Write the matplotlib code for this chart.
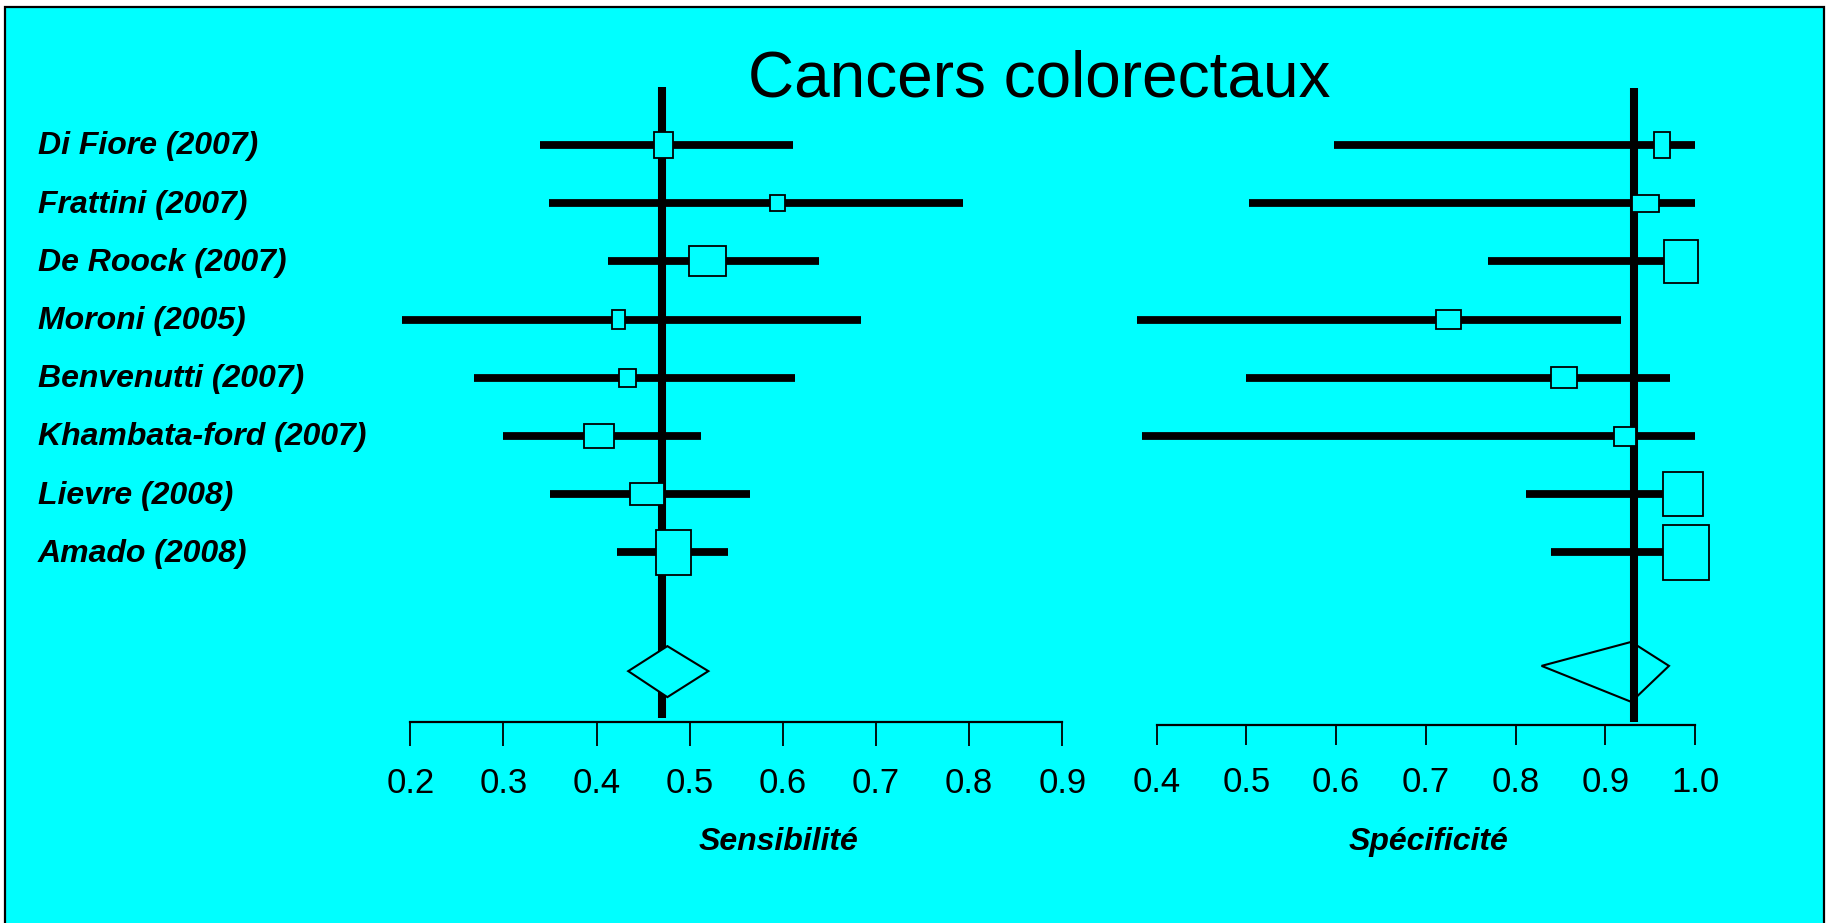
import matplotlib.pyplot as plt
from matplotlib.patches import Rectangle, Polygon
from matplotlib.transforms import blended_transform_factory

plt.rcParams['font.family'] = ['Liberation Sans', 'DejaVu Sans']

# data
studies = ["Di Fiore (2007)", "Frattini (2007)", "De Roock (2007)", "Moroni (2005)",
           "Benvenutti (2007)", "Khambata-ford (2007)", "Lievre (2008)", "Amado (2008)"]

sens = [0.472, 0.594, 0.519, 0.424, 0.433, 0.403, 0.454, 0.483]
sens_lo = [0.339, 0.349, 0.412, 0.191, 0.268, 0.300, 0.350, 0.422]
sens_hi = [0.611, 0.793, 0.639, 0.684, 0.613, 0.512, 0.565, 0.541]
sens_line = 0.47
sens_pool = [0.434, 0.476, 0.520]   # lo, estimate, hi

spec = [0.963, 0.945, 0.984, 0.725, 0.854, 0.922, 0.987, 0.990]
spec_lo = [0.598, 0.503, 0.769, 0.378, 0.500, 0.384, 0.812, 0.840]
spec_hi = [1.0, 1.0, 1.0, 0.917, 0.972, 1.0, 1.0, 1.0]
spec_line = 0.932
spec_pool = [0.829, 0.929, 0.971]

sens_ticks = [0.2, 0.3, 0.4, 0.5, 0.6, 0.7, 0.8, 0.9]
spec_ticks = [0.4, 0.5, 0.6, 0.7, 0.8, 0.9, 1.0]

# box sizes (pixels, width / height) - study weights
sens_box_w = [18.4, 15.2, 37.7, 12.9, 17.0, 29.8, 34.0, 34.9]
sens_box_h = [25.3, 15.7, 30.0, 18.7, 17.7, 24.3, 22.0, 45.7]
spec_box_w = [16.5, 27.7, 33.9, 25.4, 25.9, 22.3, 40.2, 46.4]
spec_box_h = [26.0, 17.3, 43.3, 19.3, 21.0, 19.0, 44.3, 55.0]

CYAN = '#00ffff'
W, H = 1829, 923
ROW0, DY = 145, 58.2      # pixel y of first row, row spacing
TOP, BOT = 80, 770        # axes vertical extent in pixels
POOL_ROW = 9

fig = plt.figure(figsize=(W / 100, H / 100), dpi=100, facecolor='white')
fig.patches.append(Rectangle((5 / W, -0.02), (1823.5 - 5) / W, 1.02 - 7 / H,
                             transform=fig.transFigure, facecolor=CYAN,
                             edgecolor='black', lw=1.6, zorder=-5))


def make_axes(x0, x1, pa, va, pb, vb):
    ax = fig.add_axes([x0 / W, 1 - BOT / H, (x1 - x0) / W, (BOT - TOP) / H])
    k = (vb - va) / (pb - pa)
    ax.set_xlim(va + (x0 - pa) * k, va + (x1 - pa) * k)
    ax.set_ylim((BOT - ROW0) / DY, (TOP - ROW0) / DY)
    ax.patch.set_visible(False)
    for s in ['top', 'left', 'right']:
        ax.spines[s].set_visible(False)
    ax.set_yticks([])
    return ax, 1 / k


def forest(ax, ppu, est, lo, hi, bw, bh, line, line_top, line_bot, pool,
           pool_mid, pool_up, pool_dn, diamond_on_top, ticks, axis_row, tick_len):
    rows = list(range(len(est)))
    ax.hlines(rows, lo, hi, color='black', lw=5.6, capstyle='butt', zorder=2)
    ax.vlines(line, line_top, line_bot, color='black', lw=5.8,
              capstyle='butt', zorder=3)
    for r, e, w, h in zip(rows, est, bw, bh):
        ax.add_patch(Rectangle((e - w / ppu / 2, r - h / DY / 2), w / ppu, h / DY,
                               facecolor=CYAN, edgecolor='black', lw=1.3,
                               zorder=4))
    lo_p, mid_p, hi_p = pool
    ax.add_patch(Polygon([(lo_p, pool_mid), (mid_p, pool_mid - pool_up / DY),
                          (hi_p, pool_mid), (mid_p, pool_mid + pool_dn / DY)],
                         closed=True, facecolor=CYAN, edgecolor='black', lw=1.5,
                         zorder=4 if diamond_on_top else 1))
    ax.spines['bottom'].set_position(('data', axis_row))
    ax.spines['bottom'].set_bounds(ticks[0], ticks[-1])
    ax.spines['bottom'].set_linewidth(1.6)
    ax.set_xticks(ticks)
    ax.set_xticklabels([f"{t:.1f}" for t in ticks])
    ax.tick_params(axis='x', direction='out', length=tick_len, width=1.3,
                   pad=15, labelsize=25)


ax1, ppu1 = make_axes(380, 1100, 410.3, 0.2, 1062.3, 0.9)
forest(ax1, ppu1, sens, sens_lo, sens_hi, sens_box_w, sens_box_h,
       sens_line, (87 - ROW0) / DY, (718 - ROW0) / DY, sens_pool,
       POOL_ROW + 0.04, 25, 26, True, sens_ticks, (722.3 - ROW0) / DY, 17)

ax2, ppu2 = make_axes(1120, 1760, 1156.6, 0.4, 1695.0, 1.0)
forest(ax2, ppu2, spec, spec_lo, spec_hi, spec_box_w, spec_box_h,
       spec_line, (88 - ROW0) / DY, (722 - ROW0) / DY, spec_pool,
       POOL_ROW - 0.05, 24, 36, False, spec_ticks, (725 - ROW0) / DY, 14.5)

# study labels
lab_tr = blended_transform_factory(fig.transFigure, ax1.transData)
for r, name in enumerate(studies):
    ax1.text(38 / W, r + 0.16, name, transform=lab_tr, ha='left', va='baseline',
             fontsize=23, fontweight='bold', fontstyle='italic')

fig.text(1039 / W, 1 - 96.7 / H, "Cancers colorectaux", ha='center',
         va='baseline', fontsize=46)
fig.text(778 / W, 1 - 850 / H, "Sensibilité", ha='center', va='baseline',
         fontsize=23, fontweight='bold', fontstyle='italic')
fig.text(1428 / W, 1 - 850 / H, "Spécificité", ha='center', va='baseline',
         fontsize=23, fontweight='bold', fontstyle='italic')

fig.savefig('out.png', dpi=100, facecolor='white')
